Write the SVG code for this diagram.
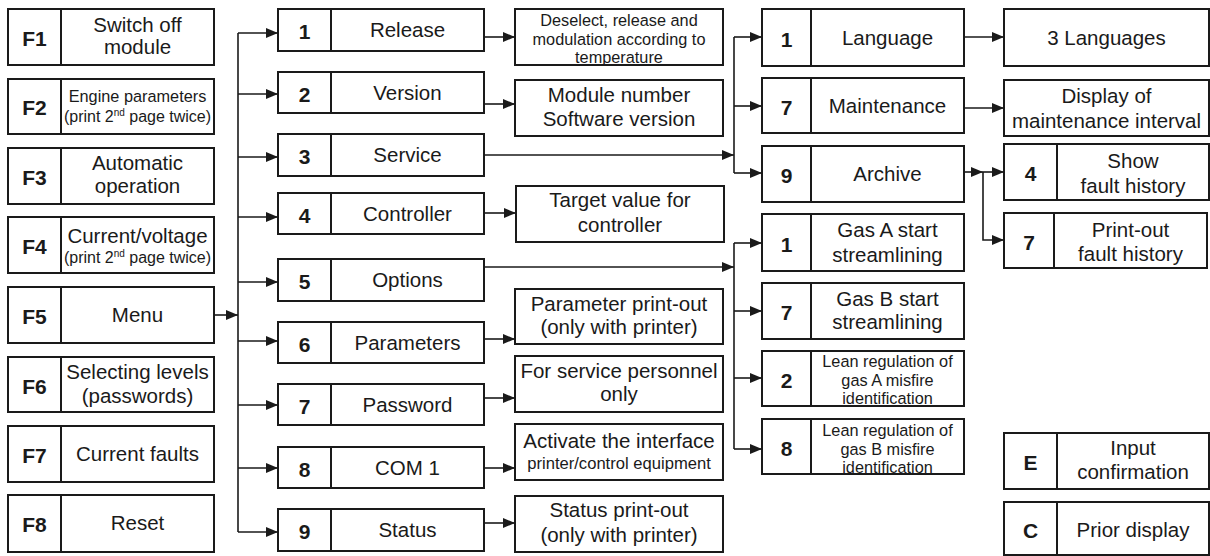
<svg xmlns="http://www.w3.org/2000/svg" width="1210" height="556" viewBox="0 0 1210 556">
  <style>
    .box { fill: #ffffff; stroke: #1a1a1a; stroke-width: 2; }
    .div { stroke: #1a1a1a; stroke-width: 2; }
    .num { font-family: "Liberation Sans", Arial, sans-serif; font-weight: bold; font-size: 21px; text-anchor: middle; fill: #1a1a1a; }
    .t { font-family: "Liberation Sans", Arial, sans-serif; font-size: 20.5px; text-anchor: middle; fill: #1a1a1a; }
    .s { font-size: 16.3px; }
    .m { font-size: 16.6px; }
    .xs { font-size: 16px; }
    .conn { stroke: #1a1a1a; stroke-width: 1.6; fill: none; }
    .arr { marker-end: url(#head); }
  </style>
  <defs>
    <marker id="head" markerUnits="userSpaceOnUse" markerWidth="12" markerHeight="10" refX="12" refY="5" orient="auto">
      <path d="M0,0 L12,5 L0,10 Z" fill="#1a1a1a"/>
    </marker>
  </defs>
  <rect width="1210" height="556" fill="#ffffff"/>

  <!-- Function keys -->
  <g id="f1"><rect class="box" x="8" y="9" width="206" height="56"/><line class="div" x1="61" y1="9" x2="61" y2="65"/>
    <text class="num" x="34.5" y="46">F1</text><text class="t" x="137.5" y="32">Switch off</text><text class="t" x="137.5" y="54">module</text></g>
  <g id="f2"><rect class="box" x="8" y="79" width="206" height="55"/><line class="div" x1="61" y1="79" x2="61" y2="134"/>
    <text class="num" x="34.5" y="115">F2</text><text class="t s" x="137.5" y="102">Engine parameters</text>
    <text class="t xs" x="137.5" y="122">(print 2<tspan font-size="10" dy="-6">nd</tspan><tspan dy="6"> page twice)</tspan></text></g>
  <g id="f3"><rect class="box" x="8" y="148" width="206" height="56"/><line class="div" x1="61" y1="148" x2="61" y2="204"/>
    <text class="num" x="34.5" y="185">F3</text><text class="t" x="137.5" y="170">Automatic</text><text class="t" x="137.5" y="193">operation</text></g>
  <g id="f4"><rect class="box" x="8" y="217" width="206" height="56"/><line class="div" x1="61" y1="217" x2="61" y2="273"/>
    <text class="num" x="34.5" y="254">F4</text><text class="t" x="137.5" y="243">Current/voltage</text>
    <text class="t xs" x="137.5" y="263">(print 2<tspan font-size="10" dy="-6">nd</tspan><tspan dy="6"> page twice)</tspan></text></g>
  <g id="f5"><rect class="box" x="8" y="287" width="206" height="56"/><line class="div" x1="61" y1="287" x2="61" y2="343"/>
    <text class="num" x="34.5" y="324">F5</text><text class="t" x="137.5" y="322">Menu</text></g>
  <g id="f6"><rect class="box" x="8" y="357" width="206" height="55"/><line class="div" x1="61" y1="357" x2="61" y2="412"/>
    <text class="num" x="34.5" y="394">F6</text><text class="t" x="137.5" y="379">Selecting levels</text><text class="t" x="137.5" y="403">(passwords)</text></g>
  <g id="f7"><rect class="box" x="8" y="426" width="206" height="56"/><line class="div" x1="61" y1="426" x2="61" y2="482"/>
    <text class="num" x="34.5" y="463">F7</text><text class="t" x="137.5" y="461">Current faults</text></g>
  <g id="f8"><rect class="box" x="8" y="495" width="206" height="57"/><line class="div" x1="61" y1="495" x2="61" y2="552"/>
    <text class="num" x="34.5" y="532">F8</text><text class="t" x="137.5" y="530">Reset</text></g>

  <!-- Menu items -->
  <g id="m1"><rect class="box" x="278" y="9" width="206" height="42"/><line class="div" x1="331" y1="9" x2="331" y2="51"/>
    <text class="num" x="304.5" y="39">1</text><text class="t" x="407.5" y="37">Release</text></g>
  <g id="m2"><rect class="box" x="278" y="72" width="206" height="41"/><line class="div" x1="331" y1="72" x2="331" y2="113"/>
    <text class="num" x="304.5" y="101.5">2</text><text class="t" x="407.5" y="99.5">Version</text></g>
  <g id="m3"><rect class="box" x="278" y="134" width="206" height="42"/><line class="div" x1="331" y1="134" x2="331" y2="176"/>
    <text class="num" x="304.5" y="164">3</text><text class="t" x="407.5" y="162">Service</text></g>
  <g id="m4"><rect class="box" x="278" y="193" width="206" height="41"/><line class="div" x1="331" y1="193" x2="331" y2="234"/>
    <text class="num" x="304.5" y="222.5">4</text><text class="t" x="407.5" y="220.5">Controller</text></g>
  <g id="m5"><rect class="box" x="278" y="259" width="206" height="42"/><line class="div" x1="331" y1="259" x2="331" y2="301"/>
    <text class="num" x="304.5" y="289">5</text><text class="t" x="407.5" y="287">Options</text></g>
  <g id="m6"><rect class="box" x="278" y="322" width="206" height="41"/><line class="div" x1="331" y1="322" x2="331" y2="363"/>
    <text class="num" x="304.5" y="351.5">6</text><text class="t" x="407.5" y="349.5">Parameters</text></g>
  <g id="m7"><rect class="box" x="278" y="384" width="206" height="41"/><line class="div" x1="331" y1="384" x2="331" y2="425"/>
    <text class="num" x="304.5" y="413.5">7</text><text class="t" x="407.5" y="411.5">Password</text></g>
  <g id="m8"><rect class="box" x="278" y="447" width="206" height="41"/><line class="div" x1="331" y1="447" x2="331" y2="488"/>
    <text class="num" x="304.5" y="476.5">8</text><text class="t" x="407.5" y="474.5">COM 1</text></g>
  <g id="m9"><rect class="box" x="278" y="509" width="206" height="42"/><line class="div" x1="331" y1="509" x2="331" y2="551"/>
    <text class="num" x="304.5" y="539">9</text><text class="t" x="407.5" y="537">Status</text></g>

  <!-- Menu item details -->
  <g id="d1"><rect class="box" x="515" y="9" width="208" height="56"/>
    <text class="t s" x="619" y="26">Deselect, release and</text><text class="t s" x="619" y="44.5">modulation according to</text><text class="t s" x="619" y="63">temperature</text></g>
  <g id="d2"><rect class="box" x="515" y="80" width="208" height="56"/>
    <text class="t" x="619" y="102">Module number</text><text class="t" x="619" y="126">Software version</text></g>
  <g id="d4"><rect class="box" x="516" y="186" width="208" height="56"/>
    <text class="t" x="620" y="207">Target value for</text><text class="t" x="620" y="232">controller</text></g>
  <g id="d6"><rect class="box" x="515" y="289" width="208" height="55"/>
    <text class="t" x="619" y="311">Parameter print-out</text><text class="t" x="619" y="334">(only with printer)</text></g>
  <g id="d7"><rect class="box" x="515" y="356" width="208" height="56"/>
    <text class="t" x="619" y="378">For service personnel</text><text class="t" x="619" y="401">only</text></g>
  <g id="d8"><rect class="box" x="515" y="424" width="208" height="56"/>
    <text class="t" x="619" y="448">Activate the interface</text><text class="t m" x="619" y="469">printer/control equipment</text></g>
  <g id="d9"><rect class="box" x="515" y="496" width="208" height="56"/>
    <text class="t" x="619" y="517">Status print-out</text><text class="t" x="619" y="542">(only with printer)</text></g>

  <!-- Service submenu -->
  <g id="s1"><rect class="box" x="762" y="9" width="202" height="57"/><line class="div" x1="811" y1="9" x2="811" y2="66"/>
    <text class="num" x="786.5" y="46.5">1</text><text class="t" x="887.5" y="44.5">Language</text></g>
  <g id="s7"><rect class="box" x="762" y="78" width="202" height="55"/><line class="div" x1="811" y1="78" x2="811" y2="133"/>
    <text class="num" x="786.5" y="114.5">7</text><text class="t" x="887.5" y="113">Maintenance</text></g>
  <g id="s9"><rect class="box" x="762" y="146" width="202" height="56"/><line class="div" x1="811" y1="146" x2="811" y2="202"/>
    <text class="num" x="786.5" y="183">9</text><text class="t" x="887.5" y="181">Archive</text></g>

  <!-- Options submenu -->
  <g id="o1"><rect class="box" x="762" y="214" width="202" height="57"/><line class="div" x1="811" y1="214" x2="811" y2="271"/>
    <text class="num" x="786.5" y="251.5">1</text><text class="t" x="887.5" y="237">Gas A start</text><text class="t" x="887.5" y="262">streamlining</text></g>
  <g id="o7"><rect class="box" x="762" y="283" width="202" height="56"/><line class="div" x1="811" y1="283" x2="811" y2="339"/>
    <text class="num" x="786.5" y="320">7</text><text class="t" x="887.5" y="306">Gas B start</text><text class="t" x="887.5" y="329">streamlining</text></g>
  <g id="o2"><rect class="box" x="762" y="351" width="202" height="55"/><line class="div" x1="811" y1="351" x2="811" y2="406"/>
    <text class="num" x="786.5" y="387.5">2</text><text class="t s" x="887.5" y="367">Lean regulation of</text><text class="t s" x="887.5" y="386">gas A misfire</text><text class="t s" x="887.5" y="404">identification</text></g>
  <g id="o8"><rect class="box" x="762" y="419" width="202" height="55"/><line class="div" x1="811" y1="419" x2="811" y2="474"/>
    <text class="num" x="786.5" y="455.5">8</text><text class="t s" x="887.5" y="436">Lean regulation of</text><text class="t s" x="887.5" y="455">gas B misfire</text><text class="t s" x="887.5" y="473">identification</text></g>

  <!-- Service details -->
  <g id="lang"><rect class="box" x="1004" y="9" width="205" height="57"/>
    <text class="t" x="1106.5" y="44.5">3 Languages</text></g>
  <g id="maint"><rect class="box" x="1004" y="80" width="205" height="56"/>
    <text class="t" x="1106.5" y="103">Display of</text><text class="t" x="1106.5" y="128">maintenance interval</text></g>
  <g id="a4"><rect class="box" x="1004" y="144" width="205" height="56"/><line class="div" x1="1057" y1="144" x2="1057" y2="200"/>
    <text class="num" x="1030.5" y="181">4</text><text class="t" x="1133" y="168">Show</text><text class="t" x="1133" y="193">fault history</text></g>
  <g id="a7"><rect class="box" x="1004" y="213" width="203" height="55"/><line class="div" x1="1054" y1="213" x2="1054" y2="268"/>
    <text class="num" x="1029" y="249.5">7</text><text class="t" x="1130.5" y="237">Print-out</text><text class="t" x="1130.5" y="261">fault history</text></g>

  <!-- General keys -->
  <g id="keyE"><rect class="box" x="1004" y="433" width="205" height="56"/><line class="div" x1="1057" y1="433" x2="1057" y2="489"/>
    <text class="num" x="1030.5" y="470">E</text><text class="t" x="1133" y="455">Input</text><text class="t" x="1133" y="479">confirmation</text></g>
  <g id="keyC"><rect class="box" x="1004" y="502" width="205" height="53"/><line class="div" x1="1057" y1="502" x2="1057" y2="555"/>
    <text class="num" x="1030.5" y="537.5">C</text><text class="t" x="1133" y="537">Prior display</text></g>

  <!-- Connectors -->
  <g id="connectors">
    <path class="conn arr" d="M214,315 H238"/>
    <path class="conn" d="M238,33 V532"/>
    <path class="conn arr" d="M238,33 H278"/>
    <path class="conn arr" d="M238,94 H278"/>
    <path class="conn arr" d="M238,157 H278"/>
    <path class="conn arr" d="M238,217 H278"/>
    <path class="conn arr" d="M238,282 H278"/>
    <path class="conn arr" d="M238,341 H278"/>
    <path class="conn arr" d="M238,405 H278"/>
    <path class="conn arr" d="M238,468 H278"/>
    <path class="conn arr" d="M238,532 H278"/>

    <path class="conn arr" d="M484,37 H515"/>
    <path class="conn arr" d="M484,104 H515"/>
    <path class="conn arr" d="M484,213 H516"/>
    <path class="conn arr" d="M484,339 H515"/>
    <path class="conn arr" d="M484,398 H515"/>
    <path class="conn arr" d="M484,468 H515"/>
    <path class="conn arr" d="M484,523 H515"/>

    <path class="conn arr" d="M484,155 H734"/>
    <path class="conn" d="M734,37 V173"/>
    <path class="conn arr" d="M734,37 H762"/>
    <path class="conn arr" d="M734,106 H762"/>
    <path class="conn arr" d="M734,173 H762"/>

    <path class="conn arr" d="M484,267 H734"/>
    <path class="conn" d="M734,243 V449"/>
    <path class="conn arr" d="M734,243 H762"/>
    <path class="conn arr" d="M734,311 H762"/>
    <path class="conn arr" d="M734,378 H762"/>
    <path class="conn arr" d="M734,449 H762"/>

    <path class="conn arr" d="M964,37 H1004"/>
    <path class="conn arr" d="M964,108 H1004"/>
    <path class="conn arr" d="M964,172 H983"/>
    <path class="conn arr" d="M983,172 H1004"/>
    <path class="conn arr" d="M983,172 V240 H1004"/>
  </g>
</svg>
